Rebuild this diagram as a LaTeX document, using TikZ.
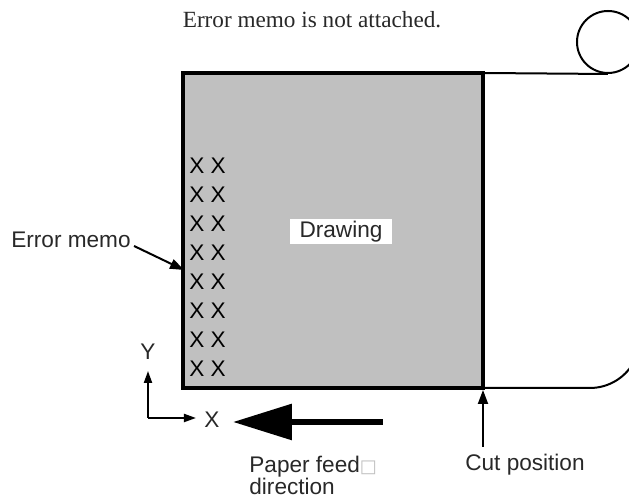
\documentclass[tikz,border=0pt]{standalone}
\usepackage{fontspec}
\setmainfont{Liberation Serif}
\setsansfont{Liberation Sans}
\newfontfamily\symfont{DejaVu Sans}
\usepackage{xcolor}
\definecolor{sheetgray}{RGB}{192,192,192}
\definecolor{textgray}{RGB}{40,40,40}
\usepackage{tikz}
\usetikzlibrary{arrows.meta,positioning,calc}

\begin{document}
\begin{tikzpicture}[
  x=0.5pt,y=0.5pt,
  lbl/.style={font=\fontsize{11.3}{13}\sffamily\color{textgray},inner sep=0pt},
  memo/.style={font=\fontsize{11.3}{14.5}\sffamily,inner sep=0pt,anchor=north west,align=left},
  sheet/.style={draw=black,line width=1.7pt,fill=sheetgray},
  paper/.style={draw=black,line width=1pt},
  pointer/.style={-{Triangle[length=7pt,width=5pt]},line width=1pt},
  axis/.style={-{Triangle[length=6pt,width=4pt]},line width=1pt},
  feed/.style={-{Triangle[length=29.5pt,width=17.5pt]},line width=3pt}
]
  \useasboundingbox (0,0) rectangle (629,502);
  % title
  \node[font=\fontsize{11.6}{14}\selectfont\color{textgray},inner sep=0pt] (title) at (312,482)
    {Error memo is not attached.};
  % roll of paper
  \coordinate (tl) at (183,429);
  \coordinate (br) at (483,114);
  \coordinate (tr) at (483,429);
  \node[draw=black,line width=1pt,circle,minimum size=31pt,inner sep=0pt] (roll) at (608,460) {};
  \draw[paper] (tr) -- (roll.south);
  \draw[paper] (br) -- (590,114) arc[start angle=270,end angle=335,radius=50];
  \draw[sheet] (tl) rectangle (br);
  % error memo column
  \node[memo] (xx) at (189,344)
    {X X\\X X\\X X\\X X\\X X\\X X\\X X\\X X};
  \node[lbl,fill=white,minimum width=51pt,minimum height=12.5pt] (drawing) at (341,270) {Drawing};
  \node[lbl] (memolbl) at (71,262) {Error memo};
  \coordinate (memotip) at (184,232);
  \draw[pointer] (memolbl.east) ++(3,-6) -- (memotip);
  % axes
  \coordinate (origin) at (148,84);
  \node[lbl] (ylbl) at (148,150) {Y};
  \node[lbl] (xlbl) at (212,82) {X};
  \draw[axis] (origin) -- (148,131);
  \draw[axis] (origin) -- (196,84);
  % feed direction
  \coordinate (feedstart) at (383,80);
  \coordinate (feedend) at (233,80);
  \draw[feed] (feedstart) -- (feedend);
  \node[lbl,anchor=north west,align=left] (feedlbl) at (249,46)
    {Paper feed{\symfont\color{gray!50}\fontsize{9}{9}\selectfont□}\\[-2pt]direction};
  % cut position
  \node[lbl] (cutlbl) at (525,37) {Cut position};
  \coordinate (cutfoot) at (483,55);
  \draw[pointer] (cutfoot) -- ([yshift=-1pt]br);
\end{tikzpicture}
\end{document}
